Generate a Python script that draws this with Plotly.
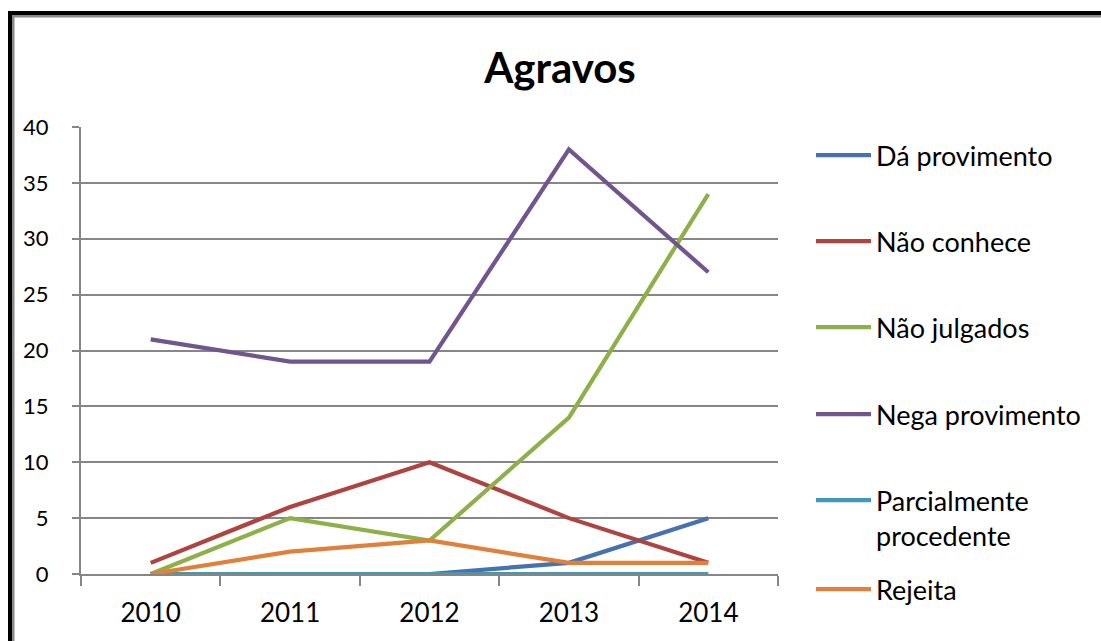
import plotly.graph_objects as go

years = ["2010", "2011", "2012", "2013", "2014"]
series_names = ["Dá provimento", "Não conhece", "Não julgados", "Nega provimento",
                "Parcialmente<br>procedente", "Rejeita"]
da_provimento = [0, 0, 0, 1, 5]
nao_conhece = [1, 6, 10, 5, 1]
nao_julgados = [0, 5, 3, 14, 34]
nega_provimento = [21, 19, 19, 38, 27]
parcialmente = [0, 0, 0, 0, 0]
rejeita = [0, 2, 3, 1, 1]
y_ticks = [0, 5, 10, 15, 20, 25, 30, 35, 40]

series_values = [da_provimento, nao_conhece, nao_julgados, nega_provimento, parcialmente, rejeita]
colors = ["#4672B0", "#AE4340", "#8DB048", "#70558E", "#3F9AB5", "#E0803A"]

W, H = 1101, 641
ML, MR, MT, MB = 81, 323, 127, 67
PW = W - ML - MR
PH = H - MT - MB


def px2x(px):
    return (px - ML) / PW


def py2y(py):
    return (H - MB - py) / PH


FONT = "Lato"
GRAY = "#868686"

fig = go.Figure()
legend_names = ["legend", "legend2", "legend3", "legend4", "legend5", "legend6"]
legend_line_y = [155, 241, 327, 414, 500, 589]

for i, (name, vals) in enumerate(zip(series_names, series_values)):
    fig.add_trace(go.Scatter(
        x=years, y=vals, name=name, mode="lines",
        line=dict(color=colors[i], width=4.2),
        cliponaxis=False,
        legend=legend_names[i],
    ))

layout_legends = {}
for i, ln in enumerate(legend_names):
    layout_legends[ln] = dict(
        x=px2x(811), xref="paper", xanchor="left",
        y=py2y(legend_line_y[i] - 24), yref="paper", yanchor="top",
        font=dict(family=FONT, size=27, color="#000000"),
        bgcolor="rgba(0,0,0,0)", borderwidth=0, valign="top",
        itemwidth=55,
        itemclick=False, itemdoubleclick=False,
    )

shapes = [
    # outer chart frame (left and top edges)
    dict(type="rect", xref="paper", yref="paper", x0=px2x(8), x1=px2x(12),
         y0=py2y(H), y1=py2y(11), fillcolor="#000000", line=dict(width=0)),
    dict(type="rect", xref="paper", yref="paper", x0=px2x(8), x1=px2x(W),
         y0=py2y(15), y1=py2y(11), fillcolor="#000000", line=dict(width=0)),
    dict(type="rect", xref="paper", yref="paper", x0=px2x(12), x1=px2x(14.5),
         y0=py2y(H), y1=py2y(15), fillcolor="#8a8a8a", line=dict(width=0)),
    dict(type="rect", xref="paper", yref="paper", x0=px2x(12), x1=px2x(W),
         y0=py2y(17.5), y1=py2y(15), fillcolor="#8a8a8a", line=dict(width=0)),
]

fig.update_layout(
    width=W, height=H, autosize=False,
    margin=dict(l=ML, r=MR, t=MT, b=MB),
    paper_bgcolor="white", plot_bgcolor="white",
    title=dict(text="<b>Agravos</b>", x=560 / W, xref="container", xanchor="center",
               y=1 - 68 / H, yref="container", yanchor="middle",
               font=dict(family=FONT, size=42, color="#000000")),
    xaxis=dict(type="category", tickson="boundaries", ticks="outside", ticklen=10,
               tickcolor=GRAY, tickwidth=2, showline=True, linecolor=GRAY, linewidth=2,
               showgrid=False, tickfont=dict(family=FONT, size=26, color="#000000"),
               ticklabelstandoff=15, range=[-0.5, 4.5]),
    yaxis=dict(range=[0, 40], tickvals=y_ticks, ticks="outside", ticklen=7,
               tickcolor=GRAY, tickwidth=2, showline=True, linecolor=GRAY, linewidth=2,
               showgrid=True, gridcolor=GRAY, gridwidth=2, zeroline=False,
               tickfont=dict(family=FONT, size=22, color="#000000"),
               ticklabelstandoff=19),
    shapes=shapes,
    showlegend=True,
    **layout_legends,
)

fig.write_html("out.html", config={"displayModeBar": False},
               post_script="document.body.style.margin='0';document.body.style.overflow='hidden';")
